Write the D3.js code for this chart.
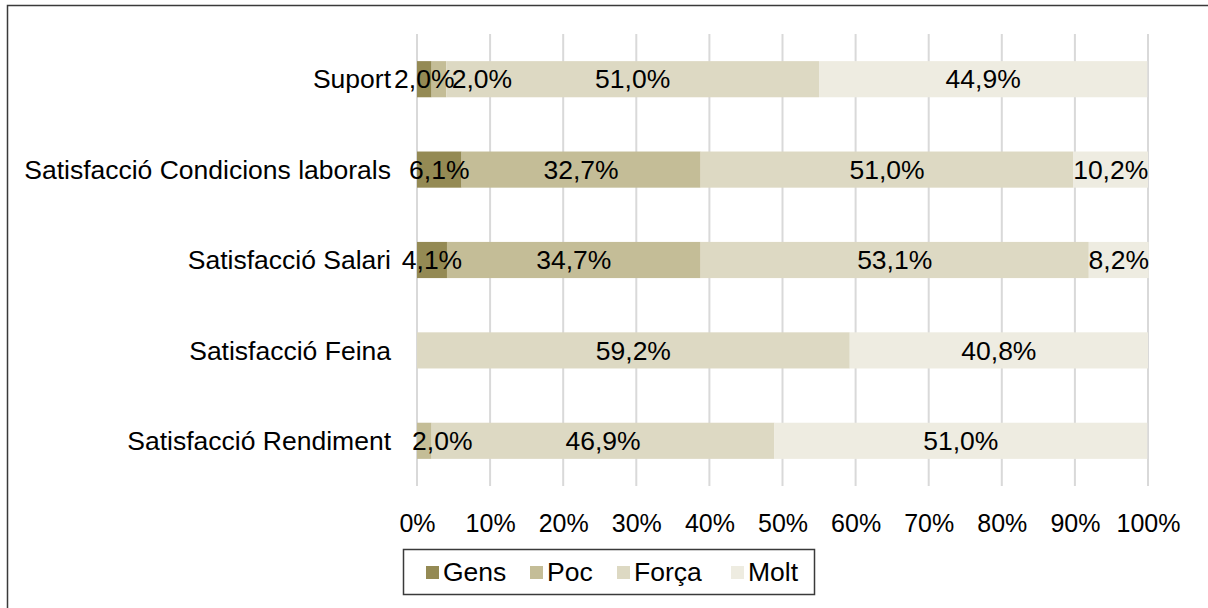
<!DOCTYPE html>
<html>
<head>
<meta charset="utf-8">
<script src="https://cdn.jsdelivr.net/npm/d3@7.9.0/dist/d3.min.js"></script>
<style>
  body { margin: 0; background: #fff; }
  svg { display: block; font-family: "Liberation Sans", Arial, sans-serif; }
</style>
</head>
<body>
<svg id="chart" width="1208" height="608"></svg>
<script>
// categories, top to bottom
const categories = ['Suport', 'Satisfacció Condicions laborals', 'Satisfacció Salari', 'Satisfacció Feina', 'Satisfacció Rendiment'];
const seriesNames = ['Gens', 'Poc', 'Força', 'Molt'];
const seriesColors = ['#948a54', '#c4bd97', '#ddd9c3', '#eeece1'];

// percent values per series, same order as categories
const gens  = [2.0, 6.1, 4.1, 0, 0];
const poc   = [2.0, 32.7, 34.7, 0, 2.0];
const forca = [51.0, 51.0, 53.1, 59.2, 46.9];
const molt  = [44.9, 10.2, 8.2, 40.8, 51.0];

const xTicks = [0, 10, 20, 30, 40, 50, 60, 70, 80, 90, 100];

const table = categories.map((c, i) => ({
  cat: c, Gens: gens[i], Poc: poc[i], 'Força': forca[i], Molt: molt[i]
}));

const svg = d3.select('#chart');
const margin = { left: 417, right: 60, top: 34, bottom: 122 };
const W = 1208, H = 608;
const fs = 26.5;

// outer chart border (right/bottom fall outside the picture)
svg.append('rect')
  .attr('x', 7.5).attr('y', 5.5).attr('width', 1220).attr('height', 620)
  .attr('fill', 'none').attr('stroke', '#3a3a3a').attr('stroke-width', 1.5);

const x = d3.scaleLinear().domain([0, 100]).range([margin.left, W - margin.right]);
const y = d3.scaleBand().domain(categories)
  .range([margin.top, H - margin.bottom])
  .paddingInner(0.6).paddingOuter(0.3);

const fmt = v => d3.format('.1f')(v).replace('.', ',') + '%';

// gridlines
svg.append('g')
  .selectAll('line')
  .data(xTicks)
  .join('line')
  .attr('x1', d => x(d)).attr('x2', d => x(d))
  .attr('y1', margin.top).attr('y2', H - margin.bottom)
  .attr('stroke', '#d9d9d9').attr('stroke-width', 2);

// x axis labels
const xAxis = d3.axisBottom(x).tickValues(xTicks).tickSize(0).tickPadding(0).tickFormat(d => d + '%');
svg.append('g')
  .attr('transform', `translate(0, ${H - margin.bottom + 37})`)
  .call(xAxis)
  .call(g => g.select('.domain').remove())
  .call(g => g.selectAll('text')
    .attr('font-size', 25)
    .attr('fill', '#000')
    .attr('font-family', '"Liberation Sans", Arial, sans-serif')
    .attr('dy', '0.35em'));

// stacked bars
const stack = d3.stack().keys(seriesNames);
const layers = stack(table);

svg.append('g')
  .selectAll('g')
  .data(layers)
  .join('g')
  .attr('fill', (d, i) => seriesColors[i])
  .selectAll('rect')
  .data(d => d)
  .join('rect')
  .attr('x', d => x(d[0]))
  .attr('y', d => y(d.data.cat))
  .attr('width', d => x(d[1]) - x(d[0]))
  .attr('height', y.bandwidth());

// category labels
svg.append('g')
  .selectAll('text')
  .data(categories)
  .join('text')
  .attr('x', margin.left - 26)
  .attr('y', d => y(d) + y.bandwidth() / 2)
  .attr('dy', '0.35em')
  .attr('text-anchor', 'end')
  .attr('font-size', fs)
  .attr('fill', '#000')
  .text(d => d);

// data labels; small manual nudges like in the original
const nudge = { 'Suport|Poc': 43, 'Satisfacció Rendiment|Poc': 18 };
const lbl = svg.append('g');
layers.forEach(layer => {
  layer.forEach(d => {
    const v = d[1] - d[0];
    if (v <= 0) return;
    const key = d.data.cat + '|' + layer.key;
    lbl.append('text')
      .attr('x', x((d[0] + d[1]) / 2) + (nudge[key] || 0))
      .attr('y', y(d.data.cat) + y.bandwidth() / 2)
      .attr('dy', '0.35em')
      .attr('text-anchor', 'middle')
      .attr('font-size', fs)
      .attr('fill', '#000')
      .text(fmt(v));
  });
});

// legend
const lg = svg.append('g');
lg.append('rect')
  .attr('x', 403.5).attr('y', 549.5).attr('width', 411).attr('height', 45)
  .attr('fill', '#fff').attr('stroke', '#3a3a3a').attr('stroke-width', 1.5);
const legendX = [426, 530, 617, 731];
seriesNames.forEach((s, i) => {
  lg.append('rect')
    .attr('x', legendX[i]).attr('y', 566)
    .attr('width', 13).attr('height', 13)
    .attr('fill', seriesColors[i]);
  lg.append('text')
    .attr('x', legendX[i] + 17).attr('y', 572)
    .attr('dy', '0.35em')
    .attr('font-size', fs)
    .attr('fill', '#000')
    .text(s);
});
</script>
</body>
</html>
